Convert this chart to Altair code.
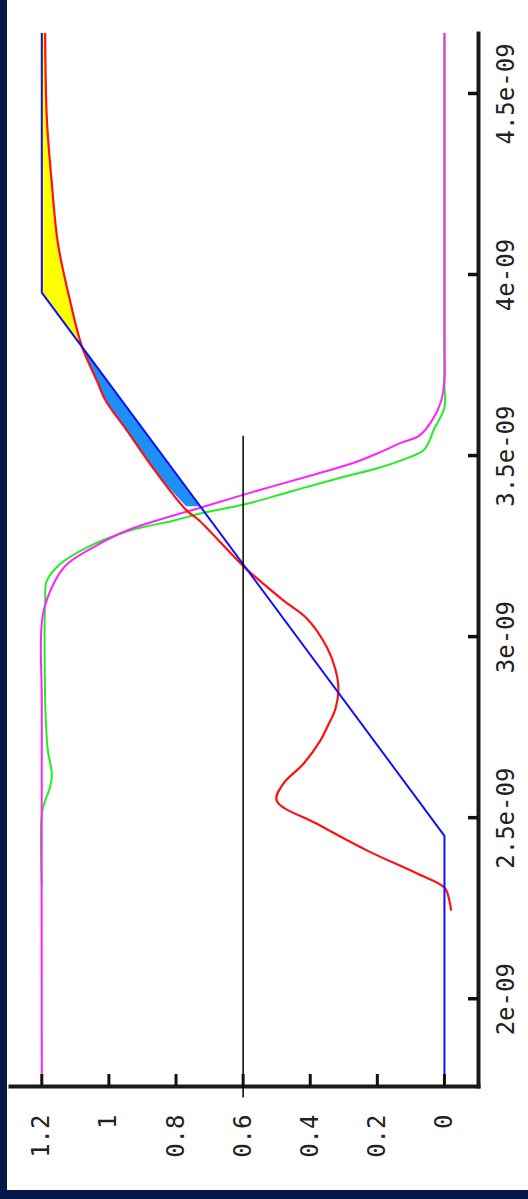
import altair as alt
import pandas as pd

# ---- data (time in ns, value in V) ----
red_t = [2.243, 2.27, 2.307, 2.345, 2.409, 2.483, 2.547, 2.594, 2.649, 2.713, 2.749, 2.80, 2.856,
         2.91, 2.97, 3.05, 3.10, 3.19, 3.32, 3.35, 3.478, 3.569, 3.652, 3.707, 3.80, 3.928, 4.086,
         4.25, 4.43, 4.667]
red_v = [-0.02, -0.015, 0.0, 0.08, 0.23, 0.38, 0.50, 0.48, 0.42, 0.37, 0.35, 0.325, 0.316,
         0.325, 0.35, 0.41, 0.48, 0.594, 0.73, 0.77, 0.878, 0.946, 1.01, 1.036, 1.08, 1.116, 1.152,
         1.17, 1.185, 1.19]

blue_t = [1.759, 2.45, 3.95, 4.667]
blue_v = [0.0, 0.0, 1.2, 1.2]

green_t = [2.31, 2.51, 2.547, 2.583, 2.62, 2.685, 2.768, 2.823, 3.10, 3.155, 3.20, 3.246, 3.293,
           3.32, 3.34, 3.367, 3.403, 3.439, 3.465, 3.486, 3.514, 3.54, 3.569, 3.633, 3.70, 4.667]
green_v = [1.2, 1.2, 1.19, 1.176, 1.17, 1.182, 1.188, 1.19, 1.19, 1.185, 1.146, 1.066, 0.937,
           0.809, 0.728, 0.588, 0.45, 0.31, 0.20, 0.131, 0.063, 0.045, 0.033, 0.0, 0.0, 0.0]

mag_t = [1.759, 2.80, 3.06, 3.155, 3.20, 3.246, 3.293, 3.34, 3.356, 3.403, 3.45, 3.48, 3.51,
         3.535, 3.555, 3.60, 3.65, 3.71, 3.80, 4.667]
mag_v = [1.2, 1.2, 1.197, 1.16, 1.125, 1.048, 0.946, 0.788, 0.728, 0.558, 0.379, 0.27, 0.19,
         0.13, 0.075, 0.035, 0.01, 0.0, 0.0, 0.0]

bfill_t = [3.36, 3.42, 3.478, 3.569, 3.652, 3.707, 3.80]
bfill_red = [0.77, 0.83, 0.878, 0.946, 1.01, 1.036, 1.08]
bfill_blue = [0.728, 0.776, 0.822, 0.895, 0.962, 1.006, 1.08]

yfill_t = [3.80, 3.928, 3.95, 4.086, 4.25, 4.43, 4.667]
yfill_red = [1.08, 1.116, 1.12, 1.152, 1.17, 1.185, 1.19]
yfill_blue = [1.08, 1.182, 1.2, 1.2, 1.2, 1.2, 1.2]

marker_v = [0.6]
marker_t1 = [1.727]
marker_t2 = [3.555]

time_ticks = [2.0, 2.5, 3.0, 3.5, 4.0, 4.5]
value_ticks = [0.0, 0.2, 0.4, 0.6, 0.8, 1.0, 1.2]

# ---- layout ----
W, H = 468, 1053
PAD_L, PAD_T, PAD_R, PAD_B = 10, 33, 50, 113
NAVY = "#04194a"
FONT = "DejaVu Sans Mono"

xs = alt.Scale(domain=[-0.100, 1.2948], reverse=True, nice=False, zero=False)
ys = alt.Scale(domain=[1.759, 4.667], nice=False, zero=False)

x_axis = alt.Axis(orient="bottom", values=value_ticks, format="~g", title=None,
                  ticks=False, tickSize=0, grid=False, domain=True, domainColor="#1a1a1a",
                  domainWidth=4, domainCap="square", labelAngle=270, labelAlign="right",
                  labelBaseline="middle", labelPadding=28, labelFont=FONT, labelFontSize=24,
                  labelColor="#222222", labelFlush=False, labelOverlap=False, labelBound=False)
y_axis = alt.Axis(orient="right", values=time_ticks, labelExpr="datum.value + 'e-09'",
                  title=None, ticks=False, tickSize=0, grid=False, domain=True,
                  domainColor="#1a1a1a", domainWidth=4, domainCap="square", labelAngle=270,
                  labelAlign="center", labelBaseline="top", labelPadding=16, labelFont=FONT,
                  labelFontSize=24, labelColor="#222222", labelFlush=False, labelOverlap=False,
                  labelBound=False)


def X(field):
    return alt.X(field, type="quantitative", scale=xs, axis=x_axis)


def Y(field):
    return alt.Y(field, type="quantitative", scale=ys, axis=y_axis)


def series(t, v):
    return pd.DataFrame({"t": t, "v": v})


bfill = pd.DataFrame({"t": bfill_t, "a": bfill_red, "b": bfill_blue})
yfill = pd.DataFrame({"t": yfill_t, "a": yfill_red, "b": yfill_blue})

blue_area = alt.Chart(bfill).mark_area(orient="horizontal", color="#1e8ff5", opacity=1).encode(
    x=X("a"), x2="b", y=Y("t"))
yellow_area = alt.Chart(yfill).mark_area(orient="horizontal", color="#ffff00", opacity=1).encode(
    x=X("a"), x2="b", y=Y("t"))


def line(t, v, color, w=2.0, interp="linear"):
    return alt.Chart(series(t, v)).mark_line(color=color, strokeWidth=w, interpolate=interp).encode(
        x=X("v"), y=Y("t"), order=alt.Order("t:Q"))


green = line(green_t, green_v, "#22ee22", interp="catmull-rom")
magenta = line(mag_t, mag_v, "#ff22ff", interp="catmull-rom")
red = line(red_t, red_v, "#ff1111", w=2.2, interp="catmull-rom")
blue = line(blue_t, blue_v, "#1010ff")

marker = alt.Chart(pd.DataFrame({"v": marker_v, "t1": marker_t1, "t2": marker_t2})).mark_rule(
    color="#000000", strokeWidth=1.5).encode(x=X("v"), y=Y("t1"), y2="t2")

frame = pd.DataFrame({"k": [0]})
left_strip = alt.Chart(frame).mark_rect(color=NAVY).encode(
    x=alt.value(-PAD_L), x2=alt.value(-PAD_L + 7), y=alt.value(-PAD_T), y2=alt.value(H + PAD_B))
bottom_strip = alt.Chart(frame).mark_rect(color=NAVY).encode(
    x=alt.value(-PAD_L), x2=alt.value(W + PAD_R), y=alt.value(H + PAD_B - 9), y2=alt.value(H + PAD_B))

# inward axis ticks (drawn last)
tticks = alt.Chart(pd.DataFrame({"t": time_ticks})).mark_rule(
    color="#111111", strokeWidth=3.5).encode(y=Y("t"), x=alt.value(W - 10), x2=alt.value(W))
vticks = alt.Chart(pd.DataFrame({"v": value_ticks})).mark_rule(
    color="#111111", strokeWidth=3).encode(x=X("v"), y=alt.value(H - 12), y2=alt.value(H))

chart = alt.layer(
    left_strip, bottom_strip, blue_area, yellow_area, green, magenta, red, blue, marker,
    tticks, vticks
).properties(
    width=W, height=H,
    autosize=alt.AutoSizeParams(type="none"),
    padding={"left": PAD_L, "top": PAD_T, "right": PAD_R, "bottom": PAD_B},
    background="#ffffff",
).configure_view(strokeWidth=0)

chart.save("out.html", embed_options={"renderer": "svg", "actions": False})
